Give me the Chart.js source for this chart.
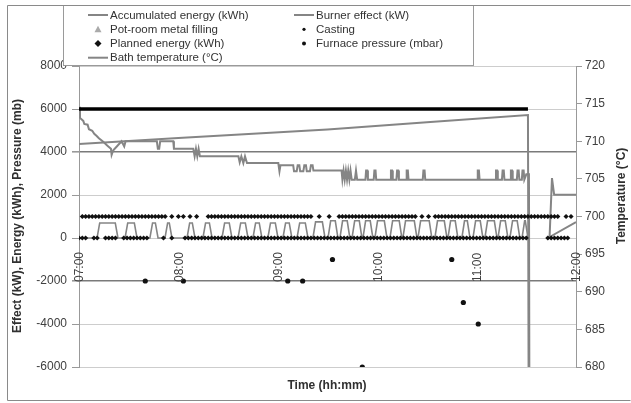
<!DOCTYPE html>
<html>
<head>
<meta charset="utf-8">
<script src="https://cdn.jsdelivr.net/npm/chart.js@4.4.1/dist/chart.umd.min.js"></script>
<style>
  html, body { margin: 0; padding: 0; background: #fff; }
  #wrap { width: 631px; height: 403px; }
</style>
</head>
<body>
<div id="wrap"><canvas id="furnaceChart" width="631" height="403"></canvas></div>
<script>
// time axis is minutes after 07:00
const hourTicks = [0, 60, 120, 180, 240, 300];
const hourLabels = ['07:00', '08:00', '09:00', '10:00', '11:00', '12:00'];

// [minute, kWh]
const accumulatedEnergy = [[0, 4370], [60, 4650], [150, 5050], [210, 5380], [271, 5720], [271.4, -7000], [277, null], [283, 0], [300, 740]];

// burner pulses: [start min, end min, kW]
const burnerPulses = [
  [10.9, 23.5, 700], [27.8, 35, 700], [42.8, 47.7, 700], [51.9, 56.1, 700], [65.2, 70, 700], [74.8, 80.3, 700],
  [86.3, 92.3, 700], [96, 102, 700], [105, 110.4, 700], [114, 120.1, 700], [123.1, 128.5, 700], [131.6, 138.2, 700],
  [141.2, 148.5, 750], [150.3, 156.3, 800], [157.5, 163.5, 800], [164.8, 170.8, 800], [171.4, 177.4, 800],
  [178.6, 185.9, 800], [187.7, 194.9, 800], [195.5, 204, 800], [204.6, 213, 800], [214.8, 222.1, 800],
  [222.7, 228.7, 800], [231.1, 236, 800], [237.8, 243.8, 800], [245, 252.3, 800], [252.9, 258.9, 800],
  [260.1, 266.1, 800], [267.4, 271, 800],
];

const potRoomFilling = [];

// [minute, value]
const casting = [[40, -2000], [63, -2000], [126, -2000], [135, -2000], [153, -1000], [171, -6000], [225, -1000], [232, -3000], [241, -4000]];

const plannedEnergy = [[0, 6000], [271, 6000]];

// furnace pressure readings, two levels (mbar)
const pressureHighLevel = 1000;
const pressureLowLevel = 0;
const pressureHighMin = [2, 4, 6, 8, 10, 12, 14, 16, 18, 20, 22, 24, 26, 28, 30, 32, 34, 36, 38, 40, 42, 44, 46, 48, 50, 52,
  56, 60, 63, 67, 71, 78, 80, 82, 84, 86, 88, 90, 92, 94, 96, 98, 100, 102, 104, 106, 108, 110, 112, 114, 116, 118, 120,
  122, 124, 126, 128, 130, 132, 134, 136, 138, 140, 145, 151, 157, 159, 161, 163, 165, 167, 169, 171, 173, 175, 177, 179,
  181, 183, 185, 187, 189, 191, 193, 195, 197, 199, 201, 203, 207, 211, 215, 217, 219, 221, 223, 225, 227, 229, 231, 233,
  235, 237, 239, 241, 243, 245, 247, 249, 251, 253, 255, 257, 259, 261, 263, 265, 267, 269, 271, 273, 275, 277, 279, 281,
  283, 285, 287, 289, 294, 297];
const pressureLowMin = [0, 2, 4, 9, 11, 16, 18, 20, 22, 27, 29, 31, 33, 35, 37, 39, 41, 51, 56, 64, 66, 68, 70, 72, 74, 76,
  78, 80, 82, 84, 86, 88, 90, 92, 94, 96, 98, 100, 102, 104, 106, 108, 110, 112, 114, 116, 118, 120, 122, 124, 126, 128,
  130, 132, 134, 136, 138, 140, 142, 144, 146, 148, 150, 152, 154, 156, 158, 160, 162, 164, 166, 168, 170, 172, 174, 176,
  178, 180, 182, 184, 186, 188, 190, 192, 194, 196, 198, 200, 202, 204, 206, 208, 210, 212, 214, 216, 218, 220, 222, 224,
  226, 228, 230, 232, 234, 236, 238, 240, 242, 244, 246, 248, 250, 252, 254, 256, 258, 260, 262, 264, 266, 268, 270,
  283, 285, 287, 289, 291, 293, 295];

// [minute, °C]
const bathTemp = [
  [0, 714.6], [0.6, 713.1], [2.6, 712.7], [3.2, 712.3], [5.2, 712.2], [6, 711.6], [8, 711.4], [9.2, 711.0], [10.7, 710.7],
  [12, 710.4], [13.7, 710.1], [15.3, 709.8], [16.7, 709.5], [17.7, 709.3], [19.3, 709.0], [19.7, 708.2], [20.7, 708.8],
  [22.8, 709.3], [25.7, 710.0], [27.3, 709.3], [28.1, 710.0], [47, 710.0], [47.6, 709.0], [48.4, 709.0], [49, 710.0],
  [56.9, 710.0], [57.3, 709.0], [69, 709.0], [69.8, 708.0], [70.6, 709.0], [71.4, 708.0], [72.2, 709.0], [73, 708.0],
  [96.2, 708.0], [97, 707.2], [98, 708.0], [99.2, 707.1], [100.2, 708.0], [101.4, 707.1], [120.3, 707.1], [121, 706.0],
  [121.6, 706.8], [129.3, 706.8], [129.8, 706.0], [131.4, 706.0], [132, 706.8], [133, 706.8], [133.5, 706.0], [135.4, 706.0],
  [136, 706.8], [137, 706.8], [137.5, 706.0], [139.4, 706.0], [140, 706.8], [141, 706.8], [141.5, 706.1], [158.5, 706.1],
  [159, 704.9], [159.7, 706.1], [160.4, 704.9], [161.1, 706.1], [161.8, 704.9], [162.5, 706.1], [163.2, 704.9], [163.9, 706.1],
  [164.6, 704.9], [166.5, 704.9], [167.2, 706.1], [167.9, 704.9], [172.9, 704.9], [173.3, 706.1], [174, 706.1], [174.4, 704.9],
  [177.9, 704.9], [178.3, 706.1], [179, 706.1], [179.4, 704.9], [187.9, 704.9], [188.3, 706.1], [189, 706.1], [189.4, 704.9],
  [191.6, 704.9], [192, 706.1], [192.7, 706.1], [193.1, 704.9], [197.4, 704.9], [197.8, 706.1], [198.5, 706.1], [198.9, 704.9],
  [207.5, 704.9], [207.9, 706.1], [208.6, 706.1], [209, 704.9], [240.3, 704.9], [240.7, 706.1], [241.4, 706.1], [241.8, 704.9],
  [251.3, 704.9], [251.7, 706.1], [252.4, 706.1], [252.8, 704.9], [255.3, 704.9], [255.7, 706.1], [256.4, 706.1], [256.8, 704.9],
  [260.3, 704.9], [260.7, 706.1], [261.4, 706.1], [261.8, 704.9], [264.3, 704.9], [264.7, 706.1], [265.4, 706.1], [265.8, 704.9],
  [267.3, 704.9], [267.7, 706.1], [268.4, 706.1], [268.8, 704.9], [270, 705.6], [271.6, 705.6], [272, 660], [278, null],
  [284, 697], [285.5, 705.1], [286.8, 702.9], [300, 702.9],
];

const FONT = '"Liberation Sans", Arial, sans-serif';
const GREY = '#858585';

const toXY = (pairs) => pairs.map(([x, y]) => ({ x, y }));

const burnerData = [{ x: 0, y: 0 }];
burnerPulses.forEach(([s, e, kw]) => {
  burnerData.push({ x: s, y: 0 }, { x: s + 1.6, y: kw }, { x: e - 1.6, y: kw }, { x: e, y: 0 });
});

const lineDs = (label, data, extra) => Object.assign({
  label, data, showLine: true, borderColor: GREY, borderWidth: 2, pointRadius: 0, tension: 0, spanGaps: false, yAxisID: 'y',
}, extra);

const dotDs = (label, data, extra) => Object.assign({
  label, data, showLine: false, pointStyle: 'circle', pointRadius: 2.2, pointBackgroundColor: '#111', pointBorderColor: '#111',
  pointBorderWidth: 0, yAxisID: 'y',
}, extra);

// legend look, same order as datasets
const legendMarks = [
  { kind: 'line' }, { kind: 'line' },
  { kind: 'triangle', color: '#aaa' }, { kind: 'dot', r: 1.6 },
  { kind: 'diamond' }, { kind: 'dot', r: 2 },
  { kind: 'line' },
];

const decor = {
  id: 'decor',
  afterDraw(chart) {
    const { ctx, scales } = chart;
    const x = scales.x, y = scales.y;
    ctx.save();

    // time labels standing on the -2000 line
    const yAxis = y.getPixelForValue(-2000);
    ctx.font = '12px ' + FONT;
    ctx.fillStyle = '#404040';
    hourTicks.forEach((t, i) => {
      ctx.save();
      ctx.translate(x.getPixelForValue(t) + 1, yAxis + 1);
      ctx.rotate(-Math.PI / 2);
      ctx.textAlign = 'left';
      ctx.textBaseline = 'middle';
      ctx.fillText(hourLabels[i], 0, 0);
      ctx.restore();
    });

    // axis titles
    ctx.font = 'bold 12px ' + FONT;
    ctx.fillStyle = '#303030';
    ctx.textAlign = 'center';
    ctx.textBaseline = 'middle';
    ctx.fillText('Time (hh:mm)', 327, 386);
    [['Effect (kW), Energy (kWh), Pressure (mb)', 18, 216], ['Temperature (°C)', 622, 196]].forEach(([txt, cx, cy]) => {
      ctx.save();
      ctx.translate(cx, cy);
      ctx.rotate(-Math.PI / 2);
      ctx.fillText(txt, 0, 0);
      ctx.restore();
    });

    // legend box
    ctx.fillStyle = '#fff';
    ctx.fillRect(63.5, 5.5, 410, 60);
    ctx.strokeStyle = '#9a9a9a';
    ctx.lineWidth = 1;
    ctx.strokeRect(63.5, 5.5, 410, 60);
    const colX = [88, 294];
    const rowY = [15, 29.3, 43.5, 57.7];
    ctx.font = '11.5px ' + FONT;
    ctx.textAlign = 'left';
    chart.data.datasets.forEach((ds, i) => {
      const m = legendMarks[i];
      const lx = colX[i % 2], ly = rowY[Math.floor(i / 2)];
      const cx = lx + 10;
      if (m.kind === 'line') {
        ctx.strokeStyle = GREY; ctx.lineWidth = 2;
        ctx.beginPath(); ctx.moveTo(lx, ly); ctx.lineTo(lx + 20, ly); ctx.stroke();
      } else if (m.kind === 'triangle') {
        ctx.fillStyle = m.color;
        ctx.beginPath(); ctx.moveTo(cx, ly - 3.5); ctx.lineTo(cx + 3.5, ly + 3); ctx.lineTo(cx - 3.5, ly + 3); ctx.closePath(); ctx.fill();
      } else if (m.kind === 'diamond') {
        ctx.fillStyle = '#111';
        ctx.beginPath(); ctx.moveTo(cx, ly - 3.5); ctx.lineTo(cx + 3.5, ly); ctx.lineTo(cx, ly + 3.5); ctx.lineTo(cx - 3.5, ly); ctx.closePath(); ctx.fill();
      } else {
        ctx.fillStyle = '#111';
        ctx.beginPath(); ctx.arc(cx, ly, m.r, 0, Math.PI * 2); ctx.fill();
      }
      ctx.fillStyle = '#333';
      ctx.fillText(ds.label, lx + 22, ly + 0.5);
    });

    // outer frame
    ctx.strokeStyle = '#8a8a8a';
    ctx.lineWidth = 1;
    ctx.beginPath();
    ctx.moveTo(630.5, 5.5); ctx.lineTo(7.5, 5.5); ctx.lineTo(7.5, 400.5); ctx.lineTo(630.5, 400.5);
    ctx.stroke();
    ctx.restore();
  },
};

new Chart(document.getElementById('furnaceChart'), {
  type: 'scatter',
  data: {
    datasets: [
      lineDs('Accumulated energy (kWh)', toXY(accumulatedEnergy), { order: 3 }),
      lineDs('Burner effect (kW)', burnerData, { borderWidth: 1.6, order: 4 }),
      dotDs('Pot-room metal filling', toXY(potRoomFilling), { pointStyle: 'triangle', pointBackgroundColor: '#aaa', order: 1 }),
      dotDs('Casting', toXY(casting), { pointRadius: 2.6, order: 1 }),
      lineDs('Planned energy (kWh)', toXY(plannedEnergy), { borderColor: '#000', borderWidth: 3.5, order: 2 }),
      dotDs('Furnace pressure (mbar)',
        pressureHighMin.map((t) => ({ x: t, y: pressureHighLevel })).concat(pressureLowMin.map((t) => ({ x: t, y: pressureLowLevel }))),
        { pointStyle: 'rectRot', pointRadius: 2.6, order: 1 }),
      lineDs('Bath temperature (°C)', toXY(bathTemp), { yAxisID: 'y1', order: 3 }),
    ],
  },
  options: {
    responsive: false,
    animation: false,
    devicePixelRatio: 1,
    layout: { padding: { top: 66, bottom: 36, left: 0, right: 0 } },
    plugins: { legend: { display: false }, tooltip: { enabled: false } },
    scales: {
      x: { type: 'linear', min: 0, max: 300, display: false },
      y: {
        position: 'left',
        min: -6000,
        max: 8000,
        ticks: { stepSize: 2000, color: '#404040', font: { size: 12, family: FONT }, padding: 5, callback: (v) => String(v) },
        grid: {
          color: (c) => (c.tick && (c.tick.value === 4000 || c.tick.value === -2000) ? '#7a7a7a' : '#cdcdcd'),
          lineWidth: (c) => (c.tick && (c.tick.value === 4000 || c.tick.value === -2000) ? 1.6 : 1),
          tickColor: '#999',
          tickLength: 7,
        },
        border: { color: '#999' },
        afterFit: (s) => { s.width = 79; },
      },
      y1: {
        position: 'right',
        min: 680,
        max: 720,
        ticks: { stepSize: 5, color: '#404040', font: { size: 12, family: FONT }, padding: 3, callback: (v) => String(v) },
        grid: { drawOnChartArea: false, tickColor: '#999', tickLength: 6 },
        border: { color: '#999' },
        afterFit: (s) => { s.width = 55; },
      },
    },
  },
  plugins: [decor],
});
</script>
</body>
</html>
